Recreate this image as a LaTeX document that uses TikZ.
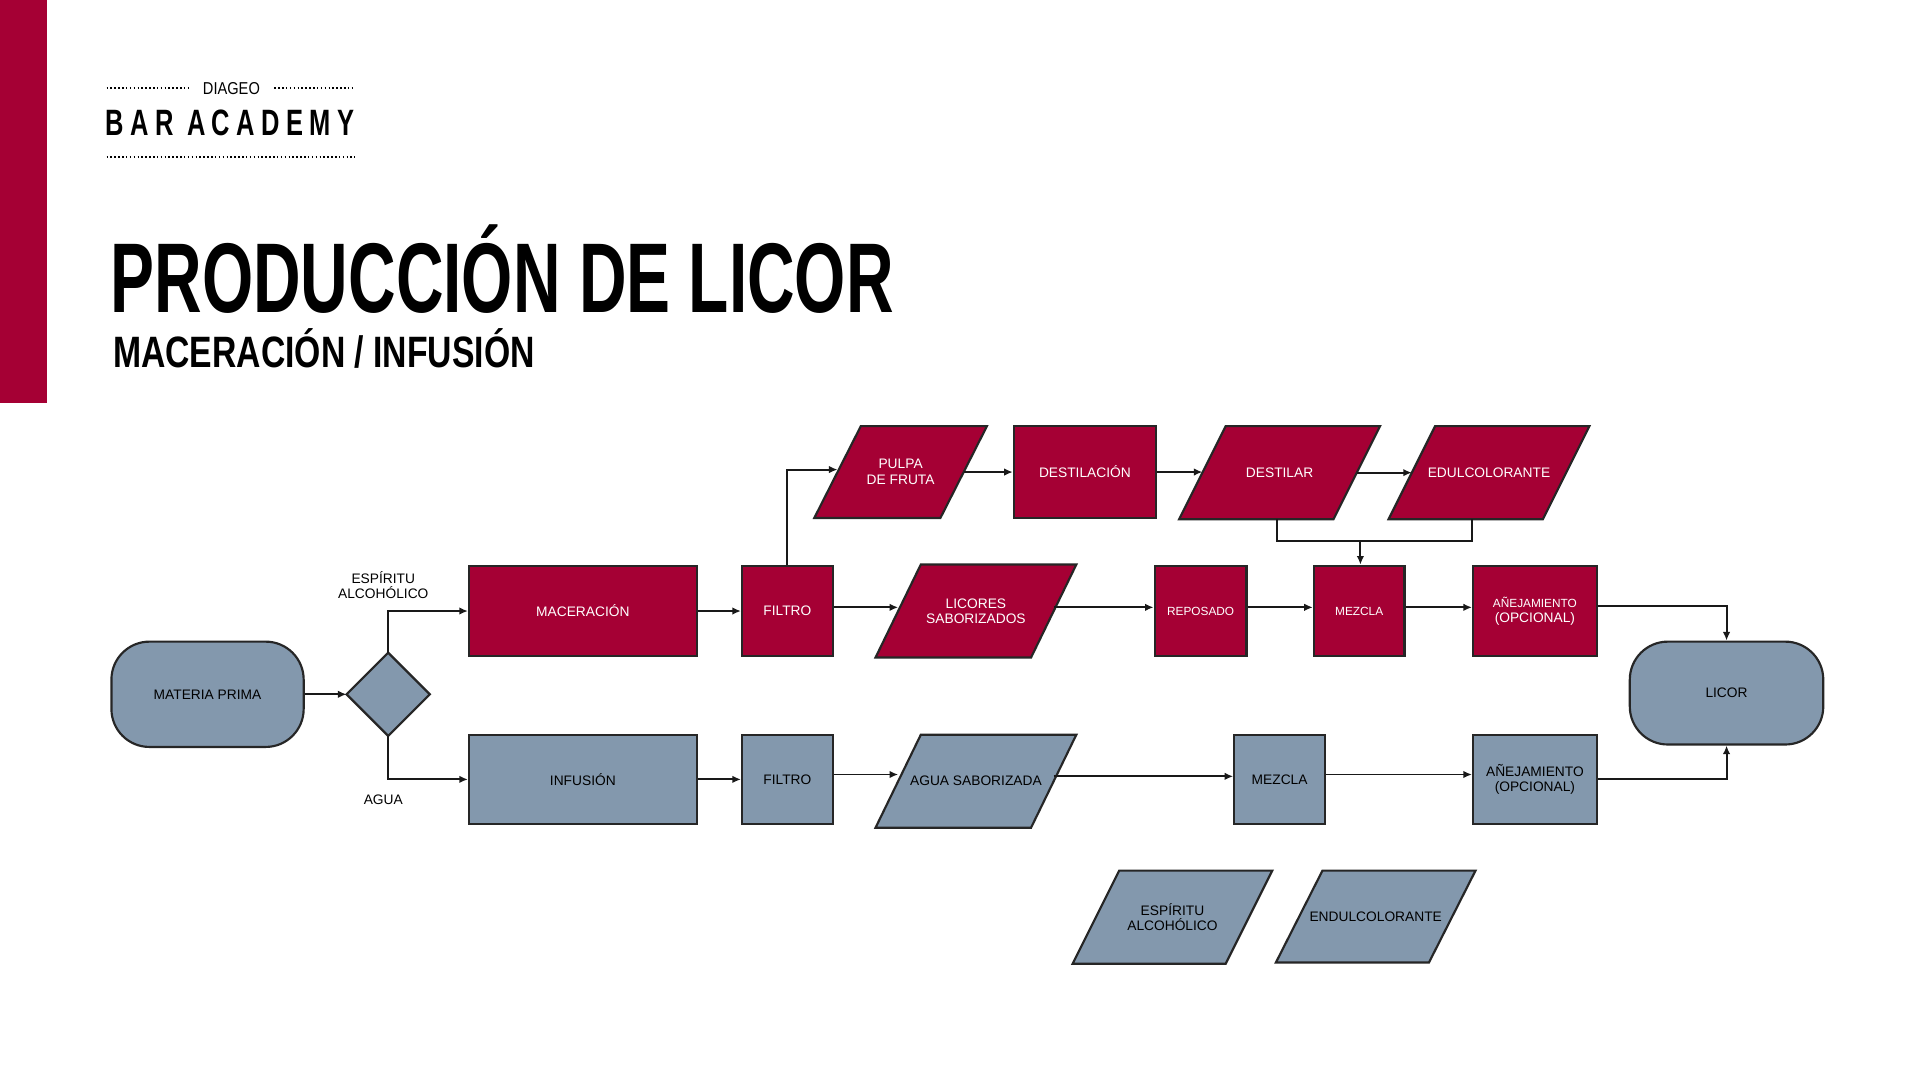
\documentclass[tikz,border=0pt]{standalone}
\usepackage{fontspec}
\setmainfont{Liberation Sans}
\usetikzlibrary{fit,arrows.meta}
\definecolor{dred}{HTML}{A50034}
\definecolor{dgrey}{HTML}{8398AD}
\tikzset{
  boxr/.style={draw=black!85, line width=1pt, fill=dred, text=white},
  boxg/.style={draw=black!85, line width=1pt, fill=dgrey, text=black},
  conn/.style={draw=black!90, line width=0.9pt, -{Latex[length=4pt,width=3.5pt]}},
  line/.style={draw=black!90, line width=0.9pt},
  txt/.style={font=\fontsize{6.4}{7.2}\selectfont, align=center},
  dotl/.style={line width=0.9pt, dash pattern=on 0.7pt off 1.1pt}
}
% \bx{name}{x1}{y1}{x2}{y2}{style}{text}
\newcommand{\bx}[7]{\node[#6, fit={(#2,#3)(#4,#5)}, inner sep=0pt, label={[txt,#6,draw=none,fill=none]center:#7}] (#1) {};}
\newcommand{\rbx}[7]{\node[#6, rounded corners=0.62cm, fit={(#2,#3)(#4,#5)}, inner sep=0pt, label={[txt,#6,draw=none,fill=none]center:#7}] (#1) {};}
% \para{name}{x1}{y1}{x2}{y2}{slant}{style}{text}
\newcommand{\para}[8]{%
  \draw[#7] ({#2+#6},#3) -- (#4,#3) -- ({#4-#6},#5) -- (#2,#5) -- cycle;
  \node[fit={(#2,#3)(#4,#5)}, inner sep=0pt] (#1) {};
  \node[txt,#7,draw=none,fill=none] at (#1.center) {#8};
  \coordinate (#1-w) at ({#2+#6/2},{(#3+#5)/2});
  \coordinate (#1-e) at ({#4-#6/2},{(#3+#5)/2});}
\begin{document}
\begin{tikzpicture}[x=0.02cm,y=-0.02cm]
\useasboundingbox (0,0) rectangle (1568,882);
\fill[white] (0,0) rectangle (1568,882);
\fill[dred] (0,0) rectangle (38,329);
% header
\draw[dotl] (87,72) -- (155,72);
\draw[dotl] (224,72) -- (290,72);
\node[font=\fontsize{8}{9}\selectfont, inner sep=0pt] (diageo) at (189,72) {\scalebox{0.85}[1]{DIAGEO}};
\node[anchor=base west, inner sep=0pt] (bar) at (86,111) {\resizebox{115.5pt}{11.9pt}{\addfontfeature{LetterSpace=25}\bfseries BAR ACADEMY}};
\draw[dotl] (87,128) -- (290,128);
\node[anchor=base west, inner sep=0pt] (title) at (90,255) {\resizebox{364pt}{40.8pt}{\bfseries PRODUCCIÓN DE LICOR}};
\node[anchor=base west, inner sep=0pt] (sub) at (92,300) {\resizebox{196pt}{18.1pt}{\bfseries MACERACIÓN / INFUSIÓN}};
% nodes
\rbx{mp}{91}{524}{248}{610}{boxg}{MATERIA PRIMA}
\draw[boxg] (317,533) -- (351,567) -- (317,601) -- (283,567) -- cycle;
\node[inner sep=0pt, minimum size=0pt] (dia) at (317,567) {};
\coordinate (diat) at (317,533); \coordinate (diab) at (317,601); \coordinate (dial) at (283,567);
\node[txt] (lesp) at (313,478) {ESPÍRITU\\ALCOHÓLICO};
\node[txt] (lagua) at (313,653) {AGUA};
\bx{mac}{383}{462}{569}{536}{boxr}{MACERACIÓN}
\bx{fil1}{606}{462}{680}{536}{boxr}{FILTRO}
\para{lic}{715}{461}{879}{537}{37}{boxr}{LICORES\\SABORIZADOS}
\bx{rep}{943}{462}{1018}{536}{boxr}{\fontsize{5.5}{6}\selectfont REPOSADO}
\bx{mez1}{1073}{462}{1147}{536}{boxr}{\fontsize{5.5}{6}\selectfont MEZCLA}
\bx{ane1}{1203}{462}{1304}{536}{boxr}{\fontsize{5.5}{6.2}\selectfont AÑEJAMIENTO\\(OPCIONAL)}
\rbx{licor}{1331}{524}{1489}{608}{boxg}{LICOR}
\para{pul}{665}{348}{806}{423}{38}{boxr}{PULPA\\DE FRUTA}
\bx{dest}{828}{348}{944}{423}{boxr}{DESTILACIÓN}
\para{dsr}{963}{348}{1127}{424}{38}{boxr}{DESTILAR}
\para{edu}{1134}{348}{1298}{424}{38}{boxr}{EDULCOLORANTE}
\bx{inf}{383}{600}{569}{673}{boxg}{INFUSIÓN}
\bx{fil2}{606}{600}{680}{673}{boxg}{FILTRO}
\para{agua}{715}{600}{879}{676}{37}{boxg}{AGUA SABORIZADA}
\bx{mez2}{1008}{600}{1082}{673}{boxg}{MEZCLA}
\bx{ane2}{1203}{600}{1304}{673}{boxg}{AÑEJAMIENTO\\(OPCIONAL)}
\para{esp}{876}{711}{1039}{787}{38}{boxg}{ESPÍRITU\\ALCOHÓLICO}
\para{end}{1042}{711}{1205}{786}{38}{boxg}{ENDULCOLORANTE}
% connectors
\draw[conn] (mp.east) -- (dial);
\draw[conn] (diat) |- (mac.west);
\draw[conn] (diab) |- (inf.west);
\draw[conn] (mac.east) -- (fil1.west);
\draw[conn] ([yshift=0.06cm]fil1.east) -- ([yshift=0.06cm]fil1.east -| lic-w);
\draw[conn] ([yshift=0.06cm]lic-e) -- ([yshift=0.06cm]lic-e -| rep.west);
\draw[conn] ([yshift=0.06cm]rep.east) -- ([yshift=0.06cm]mez1.west);
\draw[conn] ([yshift=0.06cm]mez1.east) -- ([yshift=0.06cm]ane1.west);
\draw[conn] ([yshift=0.08cm]ane1.east) -| (licor.north);
\draw[conn] (fil1.north) |- ([yshift=0.04cm]pul-w);
\draw[conn] (pul-e) -- (pul-e -| dest.west);
\draw[conn] (dest.east) -- (dest.east -| dsr-w);
\draw[conn] (dsr-e) -- (edu-w);
\coordinate (jn) at (1111,442);
\draw[line] (1043,424) |- (jn) -| (1202,424);
\draw[conn] (jn) -- (jn |- mez1.north);
\draw[conn] (inf.east) -- (fil2.west);
\draw[conn] ([yshift=0.08cm]fil2.east) -- ([yshift=0.08cm]fil2.east -| agua-w);
\draw[conn] ([yshift=0.08cm]agua-e) -- ([yshift=0.08cm]agua-e -| mez2.west);
\draw[conn] ([yshift=0.08cm]mez2.east) -- ([yshift=0.08cm]mez2.east -| ane2.west);
\draw[conn] (ane2.east) -| (licor.south);
\end{tikzpicture}
\end{document}
